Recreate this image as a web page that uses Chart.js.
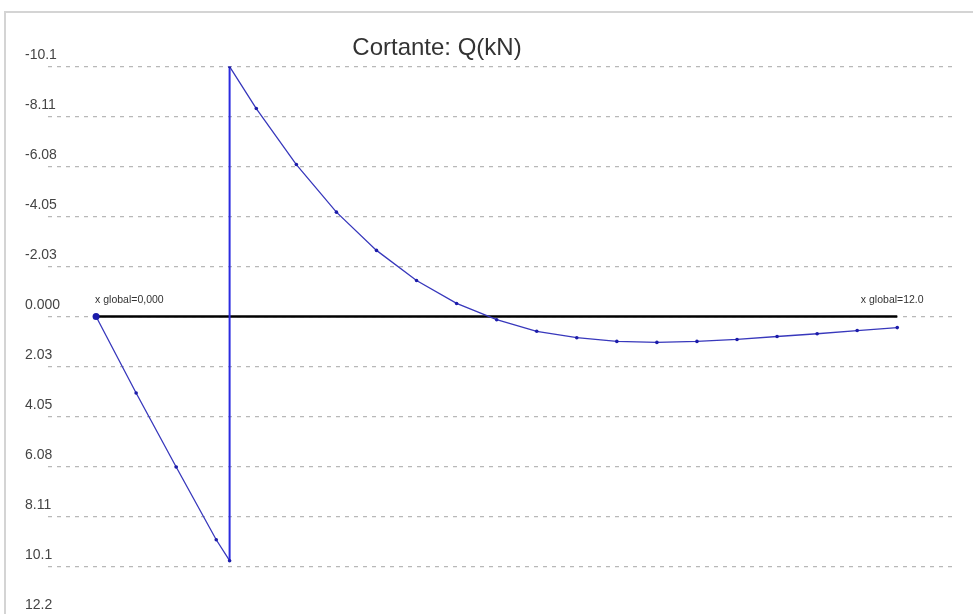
<!DOCTYPE html>
<html>
<head>
<meta charset="utf-8">
<script src="https://cdn.jsdelivr.net/npm/chart.js@4.4.1/dist/chart.umd.min.js"></script>
<style>
  html, body { margin: 0; padding: 0; background: #fff; overflow: hidden; }
  #wrap { position: relative; width: 973px; height: 614px; overflow: hidden; }
  #frame { position: absolute; left: 4px; top: 11px; width: 2000px; height: 2000px;
           border-top: 2px solid #d4d4d4; border-left: 2px solid #d4d4d4; }
  canvas { position: absolute; left: 0; top: 0; }
</style>
</head>
<body>
<div id="wrap">
  <div id="frame"></div>
  <canvas id="c" width="973" height="625"></canvas>
</div>
<script>
// ---- data ----
const chartTitle = "Cortante: Q(kN)";
const positions = [0, 0.6, 1.2, 1.8, 2.0, 2.0, 2.4, 3.0, 3.6, 4.2, 4.8, 5.4, 6.0, 6.6, 7.2, 7.8, 8.4, 9.0, 9.6, 10.2, 10.8, 11.4, 12.0];
const shear = [0, 3.1, 6.1, 9.05, 9.9, -10.13, -8.43, -6.16, -4.23, -2.68, -1.46, -0.53, 0.13, 0.60, 0.86, 1.01, 1.05, 1.01, 0.93, 0.81, 0.70, 0.57, 0.45];
const baseX = [0, 12];
const baseY = [0, 0];
const yTickValues = [-10.135, -8.108, -6.081, -4.054, -2.027, 0, 2.027, 4.054, 6.081, 8.108, 10.135, 12.162];
const yTickLabels = ["-10.1", "-8.11", "-6.08", "-4.05", "-2.03", "0.000", "2.03", "4.05", "6.08", "8.11", "10.1", "12.2"];
const endLabels = ["x global=0,000", "x global=12.0"];

const shearPts = positions.map((x, i) => ({ x: x, y: shear[i] }));
const basePts = baseX.map((x, i) => ({ x: x, y: baseY[i] }));

const annotate = {
  id: 'annotate',
  afterDraw(chart) {
    const ctx = chart.ctx;
    const xs = chart.scales.x, ys = chart.scales.y;
    ctx.save();
    ctx.fillStyle = '#333';
    ctx.font = '24px "Liberation Sans", Arial, sans-serif';
    ctx.textAlign = 'center';
    ctx.textBaseline = 'middle';
    ctx.fillText(chartTitle, 437, 48);
    ctx.font = '10.5px "Liberation Sans", Arial, sans-serif';
    ctx.textAlign = 'left';
    const y0 = ys.getPixelForValue(baseY[0]) - 16;
    ctx.fillText(endLabels[0], xs.getPixelForValue(baseX[0]) - 1, y0);
    ctx.textAlign = 'center';
    ctx.fillText(endLabels[1], xs.getPixelForValue(baseX[1]) - 5, y0);
    ctx.restore();
  }
};

new Chart(document.getElementById('c'), {
  type: 'scatter',
  data: {
    datasets: [
      {
        data: shearPts,
        showLine: true,
        borderColor: '#3838bc',
        borderWidth: 1.3,
        pointRadius: (c) => c.dataIndex === 0 ? 3.5 : 1.8,
        pointBackgroundColor: '#1c1caa',
        pointBorderWidth: 0,
        order: 1,
        segment: {
          borderColor: (s) => s.p0.parsed.x === s.p1.parsed.x ? '#2b2be0' : undefined,
          borderWidth: (s) => s.p0.parsed.x === s.p1.parsed.x ? 2 : undefined
        }
      },
      {
        data: basePts,
        showLine: true,
        borderColor: '#000',
        borderWidth: 2.5,
        pointRadius: 0,
        order: 2
      }
    ]
  },
  options: {
    responsive: false,
    animation: false,
    layout: { padding: { left: 48, right: 17, top: 66.5, bottom: 8.5 } },
    plugins: { legend: { display: false }, tooltip: { enabled: false }, title: { display: false } },
    scales: {
      x: { type: 'linear', min: -0.72, max: 12.88, display: false },
      y: {
        type: 'linear',
        reverse: true,
        min: yTickValues[0],
        max: yTickValues[yTickValues.length - 1],
        grid: { color: '#b8b8b8', lineWidth: 1.3, drawTicks: false, tickLength: 0 },
        border: { display: false, dash: [4, 5] },
        afterBuildTicks: (s) => { s.ticks = yTickValues.map(v => ({ value: v })); },
        afterFit: (s) => { s.width = 0; s.paddingTop = 0; s.paddingBottom = 0; },
        ticks: {
          mirror: true,
          padding: -23,
          labelOffset: -11,
          color: '#444',
          font: { family: '"Liberation Sans", Arial, sans-serif', size: 14 },
          callback: (v, i) => yTickLabels[i]
        }
      }
    }
  },
  plugins: [annotate]
});
</script>
</body>
</html>
